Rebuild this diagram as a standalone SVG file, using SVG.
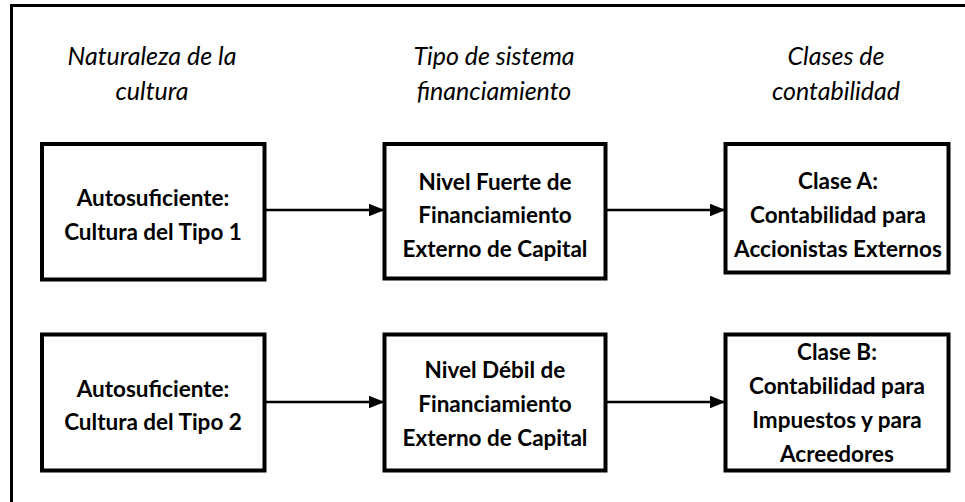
<svg xmlns="http://www.w3.org/2000/svg" width="965" height="502" viewBox="0 0 965 502">
<style>
.box{fill:#fff;stroke:#000;stroke-width:4}
.hd{font-family:Lato,"Liberation Sans",sans-serif;font-style:italic;font-size:25px;fill:#000;text-anchor:middle}
.bt{font-family:Lato,"Liberation Sans",sans-serif;font-weight:bold;font-size:22.5px;fill:#000;text-anchor:middle}
.con{stroke:#000;stroke-width:2.5;fill:none;marker-end:url(#ah)}
</style>
<defs>
<marker id="ah" markerWidth="16" markerHeight="13" refX="16" refY="6.5" orient="auto" markerUnits="userSpaceOnUse">
<path d="M0,0 L16,6.5 L0,13 Z" fill="#000"/>
</marker>
</defs>
<rect width="965" height="502" fill="#fff"/>
<rect id="frame" x="11.5" y="5.5" width="980" height="520" fill="none" stroke="#000" stroke-width="3"/>
<g id="headers">
<text class="hd" x="152" y="65">Naturaleza de la</text>
<text class="hd" x="152" y="100">cultura</text>
<text class="hd" x="494" y="65">Tipo de sistema</text>
<text class="hd" x="494" y="100">financiamiento</text>
<text class="hd" x="836" y="65">Clases de</text>
<text class="hd" x="836" y="100">contabilidad</text>
</g>
<g id="connectors">
<line class="con" x1="264.5" y1="210" x2="384.5" y2="210"/>
<line class="con" x1="605.5" y1="210" x2="725.5" y2="210"/>
<line class="con" x1="264.5" y1="402" x2="384.5" y2="402"/>
<line class="con" x1="605.5" y1="402" x2="725.5" y2="402"/>
</g>
<g id="n1">
<rect class="box" x="42" y="144" width="222.5" height="135.5"/>
<text class="bt" x="153" y="206">Autosuficiente:</text>
<text class="bt" x="153" y="240">Cultura del Tipo 1</text>
</g>
<g id="n2">
<rect class="box" x="384.5" y="144" width="221" height="134.5"/>
<text class="bt" x="495" y="190">Nivel Fuerte de</text>
<text class="bt" x="495" y="223">Financiamiento</text>
<text class="bt" x="495" y="257">Externo de Capital</text>
</g>
<g id="n3">
<rect class="box" x="725.5" y="144" width="223" height="128.5"/>
<text class="bt" x="838" y="189">Clase A:</text>
<text class="bt" x="838" y="223">Contabilidad para</text>
<text class="bt" x="838" y="257">Accionistas Externos</text>
</g>
<g id="n4">
<rect class="box" x="42" y="334.5" width="222.5" height="136"/>
<text class="bt" x="153" y="397">Autosuficiente:</text>
<text class="bt" x="153" y="430">Cultura del Tipo 2</text>
</g>
<g id="n5">
<rect class="box" x="384.5" y="334.5" width="221" height="136"/>
<text class="bt" x="495" y="378">Nivel Débil de</text>
<text class="bt" x="495" y="412">Financiamiento</text>
<text class="bt" x="495" y="446">Externo de Capital</text>
</g>
<g id="n6">
<rect class="box" x="725.5" y="334.5" width="223" height="136"/>
<text class="bt" x="837" y="360">Clase B:</text>
<text class="bt" x="837" y="394">Contabilidad para</text>
<text class="bt" x="837" y="428">Impuestos y para</text>
<text class="bt" x="837" y="462">Acreedores</text>
</g>
</svg>
